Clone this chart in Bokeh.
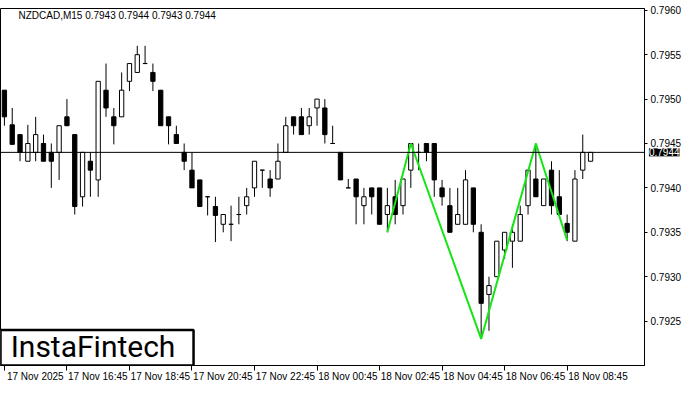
from bokeh.plotting import figure
from bokeh.models import Range1d, FixedTicker, Span, Label, ColumnDataSource
from bokeh.core.properties import value
from bokeh.embed import file_html
from bokeh.resources import INLINE

symbol_title = "NZDCAD,M15  0.7943 0.7944 0.7943 0.7944"

opens = [0.79510, 0.79471, 0.79460, 0.79430, 0.79440, 0.79450, 0.79440, 0.79440, 0.79480, 0.79460,
         0.79390, 0.79430, 0.79409, 0.79510, 0.79480, 0.79480, 0.79520, 0.79530, 0.79540, 0.79530,
         0.79510, 0.79480, 0.79460, 0.79440, 0.79420, 0.79409, 0.79390, 0.79379, 0.79359, 0.79359,
         0.79370, 0.79380, 0.79400, 0.79420, 0.79410, 0.79410, 0.79440, 0.79480, 0.79480, 0.79470,
         0.79490, 0.79490, 0.79450, 0.79440, 0.79400, 0.79410, 0.79380, 0.79400, 0.79400, 0.79370,
         0.79390, 0.79380, 0.79420, 0.79440, 0.79450, 0.79450, 0.79400, 0.79380, 0.79359, 0.79359,
         0.79400, 0.79350, 0.79280, 0.79300, 0.79330, 0.79340, 0.79340, 0.79380, 0.79410, 0.79380,
         0.79420, 0.79390, 0.79360, 0.79340, 0.79420, 0.79430]
highs = [0.79510, 0.79490, 0.79460, 0.79471, 0.79480, 0.79460, 0.79450, 0.79470, 0.79500, 0.79460,
         0.79440, 0.79440, 0.79520, 0.79540, 0.79490, 0.79530, 0.79540, 0.79560, 0.79560, 0.79540,
         0.79510, 0.79480, 0.79470, 0.79450, 0.79440, 0.79409, 0.79390, 0.79390, 0.79370, 0.79380,
         0.79390, 0.79400, 0.79430, 0.79420, 0.79420, 0.79450, 0.79480, 0.79480, 0.79490, 0.79490,
         0.79500, 0.79500, 0.79470, 0.79440, 0.79410, 0.79410, 0.79400, 0.79400, 0.79400, 0.79400,
         0.79409, 0.79410, 0.79450, 0.79450, 0.79450, 0.79450, 0.79409, 0.79400, 0.79400, 0.79420,
         0.79400, 0.79359, 0.79300, 0.79340, 0.79350, 0.79359, 0.79380, 0.79420, 0.79450, 0.79410,
         0.79430, 0.79420, 0.79370, 0.79420, 0.79460, 0.79440]
lows = [0.79470, 0.79449, 0.79430, 0.79430, 0.79430, 0.79430, 0.79400, 0.79409, 0.79470, 0.79370,
        0.79379, 0.79390, 0.79390, 0.79480, 0.79449, 0.79480, 0.79509, 0.79530, 0.79540, 0.79509,
        0.79470, 0.79449, 0.79450, 0.79420, 0.79400, 0.79379, 0.79369, 0.79339, 0.79350, 0.79340,
        0.79359, 0.79370, 0.79390, 0.79400, 0.79390, 0.79410, 0.79440, 0.79460, 0.79460, 0.79460,
        0.79470, 0.79450, 0.79450, 0.79409, 0.79400, 0.79359, 0.79359, 0.79370, 0.79359, 0.79350,
        0.79359, 0.79370, 0.79400, 0.79420, 0.79430, 0.79390, 0.79380, 0.79350, 0.79359, 0.79359,
        0.79350, 0.79230, 0.79239, 0.79300, 0.79320, 0.79310, 0.79340, 0.79370, 0.79390, 0.79380,
        0.79370, 0.79370, 0.79340, 0.79340, 0.79410, 0.79430]
closes = [0.79480, 0.79449, 0.79440, 0.79450, 0.79460, 0.79430, 0.79430, 0.79470, 0.79470, 0.79379,
          0.79440, 0.79420, 0.79520, 0.79490, 0.79470, 0.79510, 0.79540, 0.79550, 0.79540, 0.79520,
          0.79470, 0.79470, 0.79450, 0.79430, 0.79400, 0.79379, 0.79390, 0.79369, 0.79370, 0.79359,
          0.79370, 0.79390, 0.79430, 0.79420, 0.79400, 0.79430, 0.79470, 0.79470, 0.79460, 0.79480,
          0.79500, 0.79460, 0.79450, 0.79409, 0.79400, 0.79390, 0.79390, 0.79390, 0.79359, 0.79380,
          0.79370, 0.79410, 0.79450, 0.79440, 0.79440, 0.79409, 0.79390, 0.79350, 0.79370, 0.79409,
          0.79359, 0.79270, 0.79290, 0.79340, 0.79350, 0.79350, 0.79370, 0.79420, 0.79390, 0.79410,
          0.79380, 0.79370, 0.79350, 0.79410, 0.79440, 0.79440]

time_tick_bars = [0, 8, 16, 24, 32, 40, 48, 56, 64, 72]
time_tick_labels = ["17 Nov 2025", "17 Nov 16:45", "17 Nov 18:45", "17 Nov 20:45", "17 Nov 22:45",
                    "18 Nov 00:45", "18 Nov 02:45", "18 Nov 04:45", "18 Nov 06:45", "18 Nov 08:45"]
price_ticks = [0.7925, 0.7930, 0.7935, 0.7940, 0.7945, 0.7950, 0.7955, 0.7960]

pattern_bars = [49, 52, 61, 68, 72]
pattern_prices = [0.79350, 0.79450, 0.79230, 0.79450, 0.79341]

current_price = 0.7944
logo_text = "InstaFintech"

idx = list(range(len(opens)))
tops = [max(o, c) for o, c in zip(opens, closes)]
bottoms = [min(o, c) for o, c in zip(opens, closes)]
fills = ["black" if c < o else "white" for o, c in zip(opens, closes)]
src = ColumnDataSource(dict(x=idx, o=opens, h=highs, l=lows, c=closes, top=tops, bottom=bottoms, fill=fills))

FONT = "Liberation Sans"
X0, X1 = -0.5, 81.9
Y0, Y1 = 0.79200, 0.79602

p = figure(width=684, height=384, x_range=Range1d(X0, X1), y_range=Range1d(Y0, Y1),
           output_backend="svg", toolbar_location=None, y_axis_location="right",
           min_border_left=0, min_border_top=0, min_border_right=0, min_border_bottom=0)
p.grid.visible = False
p.outline_line_color = "black"
p.outline_line_width = 1
p.background_fill_color = "white"
p.border_fill_color = "white"

p.yaxis.ticker = FixedTicker(ticks=price_ticks)
p.yaxis.major_label_overrides = {t: f"{t:.4f}" for t in price_ticks}
p.yaxis.major_tick_out = 3
p.yaxis.major_tick_in = 0
p.yaxis.minor_tick_out = 0
p.yaxis.minor_tick_in = 0
p.yaxis.major_label_standoff = 3
p.yaxis.major_label_text_font = FONT
p.yaxis.major_label_text_font_size = "10px"
p.yaxis.major_label_text_color = "black"
p.yaxis.axis_line_color = "black"

label_shift = 3.95
p.xaxis.ticker = FixedTicker(ticks=[t + label_shift for t in time_tick_bars], minor_ticks=time_tick_bars)
p.xaxis.major_label_overrides = {t + label_shift: l for t, l in zip(time_tick_bars, time_tick_labels)}
p.xaxis.major_tick_out = 0
p.xaxis.major_tick_in = 0
p.xaxis.minor_tick_out = 5
p.xaxis.minor_tick_in = 0
p.xaxis.minor_tick_line_color = "black"
p.xaxis.minor_tick_line_width = 1
p.xaxis.major_label_standoff = 0
p.xaxis.major_label_text_font = FONT
p.xaxis.major_label_text_font_size = "10px"
p.xaxis.major_label_text_color = "black"
p.xaxis.axis_line_color = "black"

p.segment(x0="x", y0="l", x1="x", y1="h", source=src, line_color="black", line_width=1)
p.vbar(x="x", width=0.55, top="top", bottom="bottom", source=src, fill_color="fill",
       line_color="black", line_width=1)

p.add_layout(Span(location=current_price, dimension="width", line_color="black", line_width=1))

p.line(pattern_bars, pattern_prices, line_color="#14e614", line_width=2)

p.add_layout(Label(x=1.8, y=Y1, text=symbol_title, text_baseline="top", y_offset=-1,
                   text_font=FONT, text_font_size="10px", text_color="black"))

# current price tag: hosted in a side panel so it is not clipped to the frame;
# x in canvas pixels (price-scale column), y on the price scale
tag = Label(x=679, y=current_price, x_units="canvas", y_units="data", text=f"{current_price:.4f}",
            text_align="right", text_baseline="middle", text_font=FONT, text_font_size="10px",
            text_color="white", background_fill_color="black")
p.add_layout(tag, "above")

p.quad(left=[X0], right=[24.2], bottom=[Y0], top=[0.79240], fill_color="white",
       line_color="black", line_width=2.5)
p.text(x=[0.8], y=[0.79221], text=[logo_text], text_baseline="middle", text_align="left",
       text_font=value("Roboto"), text_font_size="30px", text_color="black")

open("out.html", "w").write(file_html(p, INLINE))
